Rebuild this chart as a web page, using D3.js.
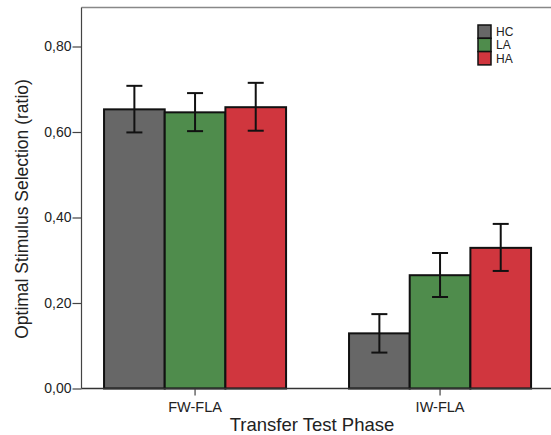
<!DOCTYPE html>
<html>
<head>
<meta charset="utf-8">
<script src="https://cdn.jsdelivr.net/npm/d3@7"></script>
<style>
  body { margin: 0; background: #fff; }
  text { font-family: "Liberation Sans", Arial, sans-serif; fill: #222; }
</style>
</head>
<body>
<svg id="chart" width="551" height="435"></svg>
<script>
var phases = ["FW-FLA", "IW-FLA"];
var groups = ["HC", "LA", "HA"];
var groupColors = ["#676767", "#4f8c4c", "#d0363e"];
// mean and error bar ends, per phase, in group order
var means = [[0.653, 0.646, 0.658], [0.129, 0.265, 0.329]];
var errLow = [[0.599, 0.602, 0.603], [0.084, 0.214, 0.275]];
var errHigh = [[0.708, 0.691, 0.715], [0.174, 0.317, 0.385]];
var yTicks = [0, 0.2, 0.4, 0.6, 0.8];

var svg = d3.select("#chart"),
  width = +svg.attr("width"),
  height = +svg.attr("height");

var plotLeft = 81.5, plotTop = 7.5, plotBottom = 388.5;

var y = d3.scaleLinear().domain([0, 0.8]).range([plotBottom, plotBottom - 342]);
var x = d3.scaleBand().domain(phases).range([81.5, 553.6]).paddingInner(0.257).paddingOuter(0.092);
var xg = d3.scaleBand().domain(groups).range([0, x.bandwidth()]);
var color = d3.scaleOrdinal().domain(groups).range(groupColors);

// frame top line
svg.append("line").attr("x1", plotLeft).attr("x2", width).attr("y1", plotTop).attr("y2", plotTop)
  .attr("stroke", "#888").attr("stroke-width", 1.5);

var data = [];
phases.forEach(function(p, i) {
  groups.forEach(function(g, j) {
    data.push({phase: p, group: g, mean: means[i][j], lo: errLow[i][j], hi: errHigh[i][j]});
  });
});

var bars = svg.append("g").selectAll("g")
  .data(data)
  .enter().append("g")
  .attr("transform", function(d) { return "translate(" + (x(d.phase) + xg(d.group)) + ",0)"; });

bars.append("rect")
  .attr("x", 0)
  .attr("y", function(d) { return y(d.mean); })
  .attr("width", xg.bandwidth())
  .attr("height", function(d) { return y(0) - y(d.mean); })
  .attr("fill", function(d) { return color(d.group); })
  .attr("stroke", "#111")
  .attr("stroke-width", 2);

var cx = xg.bandwidth() / 2;
bars.append("line")
  .attr("x1", cx).attr("x2", cx)
  .attr("y1", function(d) { return y(d.hi); })
  .attr("y2", function(d) { return y(d.lo); })
  .attr("stroke", "#111").attr("stroke-width", 2);
bars.selectAll(".cap")
  .data(function(d) { return [d.hi, d.lo]; })
  .enter().append("line")
  .attr("x1", cx - 8).attr("x2", cx + 8)
  .attr("y1", function(v) { return y(v); })
  .attr("y2", function(v) { return y(v); })
  .attr("stroke", "#111").attr("stroke-width", 2);

// y axis
var yAxis = svg.append("g")
  .attr("transform", "translate(" + plotLeft + ",0)")
  .call(d3.axisLeft(y).tickValues(yTicks).tickSize(9).tickSizeOuter(0)
    .tickFormat(function(d) { return d3.format(".2f")(d).replace(".", ","); }));
yAxis.select(".domain").remove();
yAxis.append("line").attr("x1", 0).attr("x2", 0).attr("y1", plotTop).attr("y2", plotBottom)
  .attr("stroke", "#444").attr("stroke-width", 1.2);
yAxis.selectAll(".tick line").attr("stroke", "#444").attr("stroke-width", 1.2);
yAxis.selectAll(".tick text").attr("font-size", 14).attr("fill", "#222").attr("x", -10)
  .style("font-family", "Liberation Sans, Arial, sans-serif");

// x axis
var xAxis = svg.append("g")
  .attr("transform", "translate(0," + plotBottom + ")")
  .call(d3.axisBottom(x).tickSize(7).tickSizeOuter(0));
xAxis.select(".domain").remove();
xAxis.append("line").attr("x1", plotLeft).attr("x2", width).attr("y1", 0).attr("y2", 0)
  .attr("stroke", "#333").attr("stroke-width", 1.5);
xAxis.selectAll(".tick line").attr("stroke", "#444").attr("stroke-width", 1.2);
xAxis.selectAll(".tick text").attr("font-size", 14.5).attr("fill", "#222").attr("y", 13)
  .style("font-family", "Liberation Sans, Arial, sans-serif");

// axis titles
svg.append("text")
  .attr("transform", "translate(28,209) rotate(-90)")
  .attr("text-anchor", "middle")
  .attr("font-size", 17.5)
  .text("Optimal Stimulus Selection (ratio)");

svg.append("text")
  .attr("x", 312)
  .attr("y", 431)
  .attr("text-anchor", "middle")
  .attr("font-size", 18.5)
  .text("Transfer Test Phase");

// legend
var legend = svg.append("g").attr("transform", "translate(478,25)");
var item = legend.selectAll("g").data(groups).enter().append("g")
  .attr("transform", function(d, i) { return "translate(0," + (i * 13.3) + ")"; });
item.append("rect").attr("width", 13).attr("height", 13.3)
  .attr("fill", function(d) { return color(d); })
  .attr("stroke", "#111").attr("stroke-width", 1.5);
item.append("text").attr("x", 18).attr("y", 11).attr("font-size", 12).text(function(d) { return d; });
</script>
</body>
</html>
